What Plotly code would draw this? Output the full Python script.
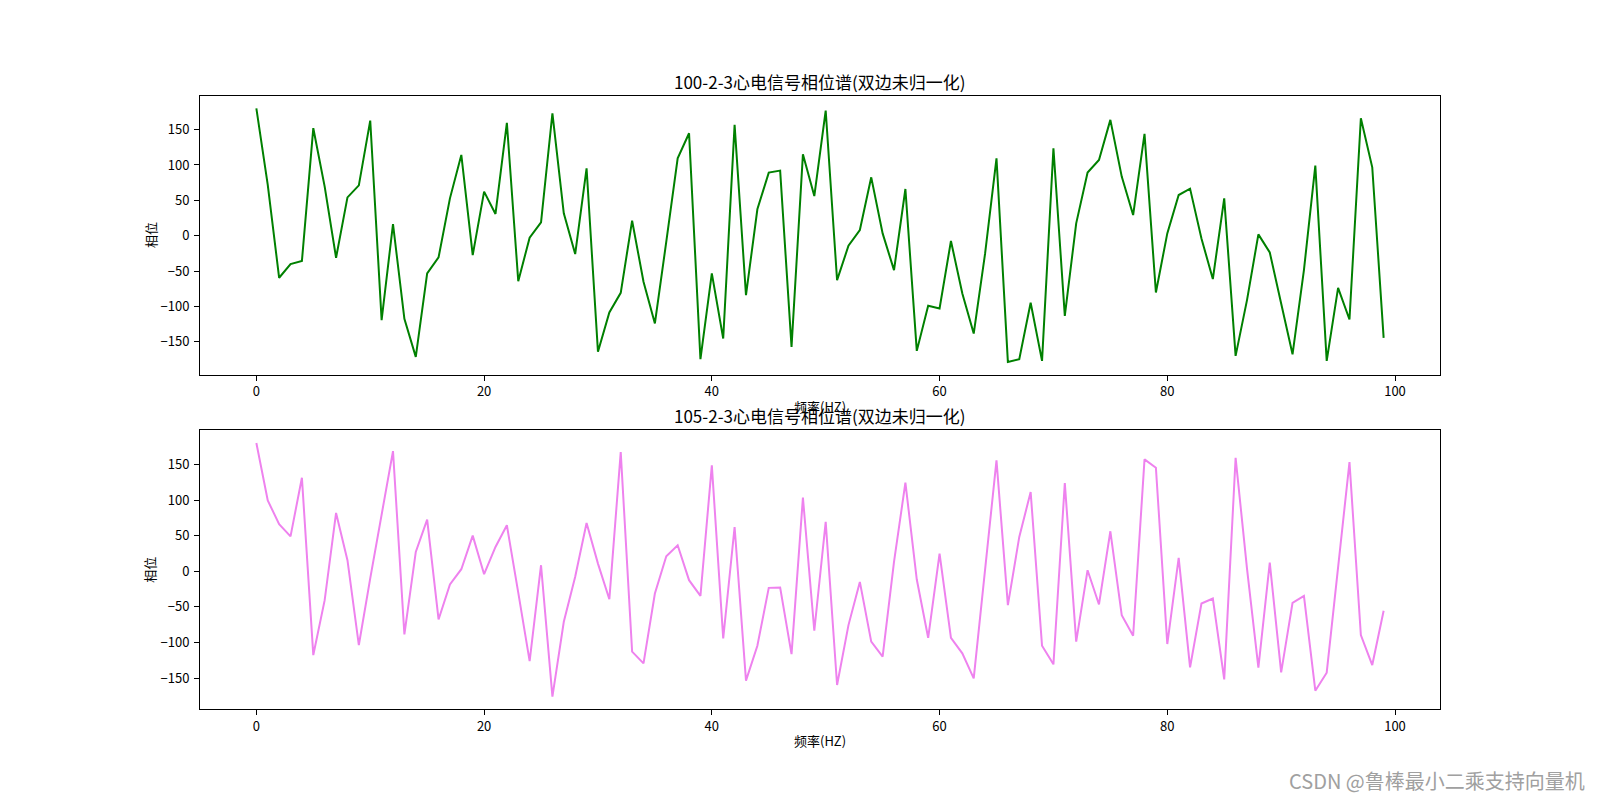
import plotly.graph_objects as go

freq = list(range(100))

phase_100 = [180, 71.7, -59.4, -40, -35.8, 151.9, 69.3, -31.1, 54.2, 71.2,
             162.7, -119.3, 16.5, -117.5, -171.2, -53.3, -30.7, 52.8, 114.2, -27.4,
             62.3, 30.7, 159.4, -64.2, -2.8, 18.9, 173, 31.6, -25.9, 95.3,
             -164, -108.5, -80.7, 21.2, -65, -124, -8.5, 109.4, 144.8, -174.5,
             -53.3, -145.3, 156.6, -84, 37.3, 89.2, 92, -157, 115, 56.1,
             176.9, -62.7, -14.2, 8, 82.5, 3.3, -48.6, 66, -162.7, -99,
             -102.8, -7.5, -81.6, -138.2, -25, 109.4, -178.3, -174.5, -94.8, -176.9,
             123.6, -113.2, 17.5, 89.2, 107, 163.7, 83.5, 29.2, 143.9, -80.2,
             3.3, 57.5, 66.5, -3.8, -61.3, 52.8, -169.8, -91, 1.9, -23.6,
             -95.8, -167.5, -48.6, 99, -176.9, -73.6, -118.4, 166, 96.7, -144.3]

phase_105 = [180, 99.5, 65.9, 49, 131.3, -117.8, -40.7, 81.8, 15.4, -103.7,
             -10, 82, 168.7, -88.8, 27.1, 72.4, -67.8, -18.7, 2.8, 50,
             -4.2, 34.1, 64.5, -30, -126.2, 8.4, -176.2, -71, -7.9, 67.8,
             10.7, -39.3, 167.3, -113, -129.4, -31.3, 21, 36.4, -12.6, -34.6,
             148.6, -94.4, 62.1, -153.7, -104.7, -23.4, -22.9, -116.4, 103.3, -83.6,
             69.2, -159.8, -75.7, -15, -99, -120, 13.1, 124.3, -11.7, -93.5,
             24.8, -93.5, -115.4, -150.5, 3.7, 155.6, -47.7, 48.1, 111.2, -104.7,
             -130.8, 123.8, -99, 1.4, -46.7, 56.1, -61.7, -90.7, 157, 145.3,
             -102.3, 18.7, -135, -45.3, -38.3, -151.9, 159.3, 3.7, -135.5, 12.1,
             -142, -44.4, -34.6, -167.8, -142.5, 8.4, 153.3, -89.7, -131.8, -55.6]

titles = ["100-2-3心电信号相位谱(双边未归一化)", "105-2-3心电信号相位谱(双边未归一化)"]
xlabel = "频率(HZ)"
ylabel = "相位"
xticks = [0, 20, 40, 60, 80, 100]
yticks = [-150, -100, -50, 0, 50, 100, 150]
watermark = "CSDN @鲁棒最小二乘支持向量机"

FONT = "Noto Sans CJK SC, SimHei, sans-serif"


def pad_range(vals, frac=0.05):
    lo, hi = min(vals), max(vals)
    m = (hi - lo) * frac
    return [lo - m, hi + m]


fig = go.Figure()
fig.add_trace(go.Scatter(x=freq, y=phase_100, mode="lines",
                         line=dict(color="#008000", width=2),
                         xaxis="x", yaxis="y", showlegend=False))
fig.add_trace(go.Scatter(x=freq, y=phase_105, mode="lines",
                         line=dict(color="#EE82EE", width=2),
                         xaxis="x2", yaxis="y2", showlegend=False))

xr = pad_range(freq)
axis_common = dict(showline=True, linecolor="black", linewidth=1, mirror=True,
                   ticks="outside", ticklen=5, tickcolor="black", tickwidth=1,
                   showgrid=False, zeroline=False,
                   tickfont=dict(family=FONT, size=13, color="black"))

dom_x = [0.125, 0.9]
dom_top = [0.53, 0.88]
dom_bot = [0.11, 0.46]

fig.update_layout(
    width=1600, height=797,
    margin=dict(l=0, r=0, t=0, b=0),
    paper_bgcolor="white", plot_bgcolor="white",
    font=dict(family=FONT, color="black"),
    xaxis=dict(domain=dom_x, anchor="y", range=xr, tickvals=xticks, **axis_common),
    yaxis=dict(domain=dom_top, anchor="x", range=pad_range(phase_100), tickvals=yticks,
               ticklabelstandoff=2, **axis_common),
    xaxis2=dict(domain=dom_x, anchor="y2", range=xr, tickvals=xticks, **axis_common),
    yaxis2=dict(domain=dom_bot, anchor="x2", range=pad_range(phase_105), tickvals=yticks,
                ticklabelstandoff=2, **axis_common),
)

annotations = []
xc = (dom_x[0] + dom_x[1]) / 2
for dom, title in ((dom_top, titles[0]), (dom_bot, titles[1])):
    annotations.append(dict(text=title, x=xc, y=dom[1], xref="paper", yref="paper",
                            xanchor="center", yanchor="bottom", yshift=0, showarrow=False,
                            font=dict(family=FONT, size=17, color="black")))
    annotations.append(dict(text=xlabel, x=xc, y=dom[0], xref="paper", yref="paper",
                            xanchor="center", yanchor="top", yshift=-20, showarrow=False,
                            font=dict(family=FONT, size=13, color="black")))
    annotations.append(dict(text=ylabel, x=dom_x[0], y=(dom[0] + dom[1]) / 2,
                            xref="paper", yref="paper", xanchor="center", yanchor="middle",
                            xshift=-50, textangle=-90, showarrow=False,
                            font=dict(family=FONT, size=13, color="black")))
annotations.append(dict(text=watermark, x=0.992, y=0.021, xref="paper", yref="paper",
                        xanchor="right", yanchor="middle", showarrow=False,
                        font=dict(family=FONT, size=20, color="#a0a0a0")))
fig.update_layout(annotations=annotations)

fig.write_html("out.html")
